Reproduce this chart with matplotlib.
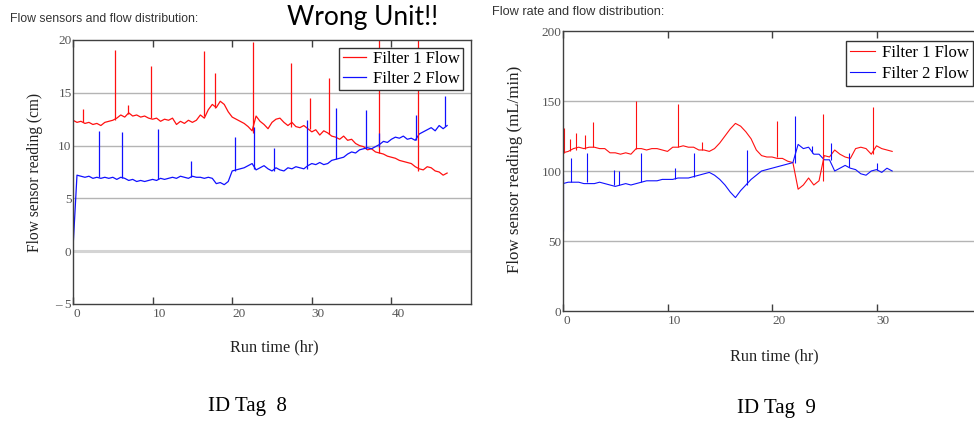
import numpy as np
import matplotlib
matplotlib.use("Agg")
import matplotlib.pyplot as plt

# ---- ID Tag 8 (left): flow sensor reading (cm) vs run time (hr), 0.5 hr samples ----
run_time_8 = np.arange(0, 47.5, 0.5)
filter1_tag8 = [
    12.4, 12.2, 12.3, 12.1, 12.2, 12.0, 12.1, 11.9, 12.2, 12.3,
    12.4, 12.6, 12.9, 12.7, 13.1, 12.8, 12.9, 12.7, 12.8, 12.6,
    12.5, 12.6, 12.3, 12.5, 12.4, 12.6, 12.0, 12.3, 12.1, 12.4,
    12.2, 12.4, 12.9, 12.6, 13.4, 13.9, 13.6, 14.2, 13.9, 13.2,
    12.7, 12.5, 12.3, 12.1, 11.8, 11.4, 12.8, 12.3, 12.0, 11.6,
    12.2, 12.5, 12.6, 12.2, 11.9, 12.2, 11.8, 11.7, 11.9, 11.6,
    11.3, 11.5, 11.0, 11.4, 11.2, 10.9, 10.8, 10.6, 10.9, 10.5,
    10.6, 10.2, 10.0, 9.9, 9.6, 9.7, 9.4, 9.3, 9.2, 9.0,
    8.9, 8.8, 8.6, 8.5, 8.4, 8.3, 8.0, 7.8, 7.7, 8.0,
    7.9, 7.6, 7.5, 7.2, 7.4,
]
filter2_tag8 = [
    0.3, 7.2, 7.1, 7.0, 7.1, 6.9, 7.0, 6.9, 7.0, 6.9,
    7.0, 6.8, 7.0, 6.9, 6.7, 6.8, 6.6, 6.7, 6.6, 6.7,
    6.8, 6.7, 6.9, 6.8, 6.9, 7.0, 6.9, 7.1, 7.0, 6.9,
    7.1, 7.0, 7.0, 6.9, 7.0, 6.9, 6.4, 6.5, 6.3, 6.6,
    7.6, 7.7, 7.8, 7.9, 8.1, 8.3, 7.7, 7.9, 8.1, 7.8,
    7.6, 7.9, 7.7, 7.6, 7.9, 7.8, 8.0, 7.9, 7.8, 8.1,
    8.3, 8.2, 8.4, 8.2, 8.3, 8.6, 8.7, 8.8, 8.9, 9.2,
    9.4, 9.3, 9.6, 9.7, 9.8, 9.7, 9.9, 10.1, 10.4, 10.3,
    10.6, 10.8, 10.7, 10.9, 10.6, 10.7, 10.5, 11.1, 11.3, 11.5,
    11.7, 11.4, 11.9, 11.6, 11.9,
]
# single-sample spikes (time, low, high)
spike1_t8 = [1.3, 5.3, 6.9, 9.8, 16.4, 17.9, 22.6, 27.4, 29.8, 32.2, 38.5, 43.4]
spike1_lo8 = [12.2, 12.4, 13.0, 12.6, 12.8, 13.6, 11.2, 11.8, 11.6, 11.1, 9.3, 7.6]
spike1_hi8 = [13.5, 19.1, 13.8, 17.5, 19.0, 16.9, 19.8, 17.8, 14.5, 16.4, 20.0, 20.0]
spike2_t8 = [3.3, 6.2, 10.7, 14.8, 20.3, 22.8, 25.2, 29.4, 33.1, 36.8, 38.5, 43.1, 46.7]
spike2_lo8 = [7.0, 6.9, 6.8, 7.0, 7.6, 7.8, 7.6, 7.8, 8.7, 9.7, 9.9, 10.5, 11.9]
spike2_hi8 = [11.4, 11.3, 11.6, 8.5, 10.8, 11.8, 9.8, 12.4, 13.6, 13.4, 11.2, 12.9, 14.7]

# ---- ID Tag 9 (right): flow rate (mL/min) vs run time (hr), 0.5 hr samples ----
run_time_9 = np.arange(0, 32.0, 0.5)
filter1_tag9 = [
    113, 114, 116, 117, 116, 117, 117, 116, 116, 113,
    113, 112, 113, 112, 116, 116, 115, 116, 116, 115,
    114, 117, 117, 118, 117, 117, 115, 115, 114, 116,
    120, 125, 130, 134, 132, 128, 123, 115, 111, 110,
    110, 109, 109, 107, 106, 87, 90, 95, 90, 93,
    111, 110, 115, 112, 110, 109, 116, 117, 116, 112,
    118, 116, 115, 114,
]
filter2_tag9 = [
    91, 92, 92, 92, 91, 91, 91, 92, 91, 90,
    89, 90, 91, 90, 91, 92, 93, 93, 93, 94,
    94, 94, 95, 95, 95, 96, 97, 98, 99, 97,
    94, 90, 85, 81, 86, 90, 94, 97, 100, 101,
    102, 103, 104, 105, 106, 119, 116, 117, 112, 112,
    108, 108, 100, 102, 104, 102, 101, 98, 97, 100,
    101, 99, 102, 100,
]
spike1_t9 = [0.05, 0.7, 1.2, 2.1, 2.9, 7.0, 11.0, 13.3, 20.5, 24.9, 29.7]
spike1_lo9 = [113, 114, 115, 116, 117, 116, 117, 115, 110, 93, 112]
spike1_hi9 = [131, 123, 127, 126, 135, 150, 148, 121, 136, 141, 146]
spike2_t9 = [0.0, 0.8, 2.3, 4.9, 5.4, 7.5, 10.7, 12.5, 17.6, 22.2, 23.8, 25.6, 27.4, 30.0]
spike2_lo9 = [57, 92, 92, 90, 90, 92, 94, 96, 90, 106, 113, 108, 103, 101]
spike2_hi9 = [98, 109, 113, 101, 100, 113, 102, 113, 115, 139, 118, 120, 113, 106]

yticks_8 = [-5, 0, 5, 10, 15, 20]
ylabels_8 = ['\u2013 5', '0', '5', '10', '15', '20']
yticks_9 = [0, 50, 100, 150, 200]

W, H = 974, 424
RED = '#ff1010'
BLUE = '#1010ff'
SERIF = 'Liberation Serif'


def px_axes(left, top, right, bottom):
    return [left / W, 1 - bottom / H, (right - left) / W, (bottom - top) / H]


def style_axes(ax, xlim, ylim, yticks, ylabels, zero_thick=False):
    ax.set_xlim(*xlim)
    ax.set_ylim(*ylim)
    ax.set_xticks(range(0, int(xlim[1]), 10))
    ax.set_yticks(yticks)
    ax.set_yticklabels(ylabels)
    for y in yticks[1:-1]:
        lw, col = (2.2, '#d4d4d4') if (zero_thick and y == 0) else (1.0, '#b4b4b4')
        ax.axhline(y, color=col, lw=lw, zorder=0)
    ax.tick_params(axis='x', direction='in', top=True, length=5, width=1,
                   color='#404040', labelsize=9.5, labelcolor='#555555', pad=3)
    ax.tick_params(axis='y', length=0, labelsize=9.5, labelcolor='#555555', pad=1)
    for lab in ax.get_xticklabels() + ax.get_yticklabels():
        lab.set_fontfamily(SERIF)
    for lab in ax.get_xticklabels():
        lab.set_ha('left')
    for s in ax.spines.values():
        s.set_color('#404040')
        s.set_linewidth(1.0)


fig = plt.figure(figsize=(W / 100, H / 100), dpi=100)

# left panel
ax1 = fig.add_axes(px_axes(73, 40, 471, 304))
l1, = ax1.plot(run_time_8, filter1_tag8, color=RED, lw=0.9, label='Filter 1 Flow')
l2, = ax1.plot(run_time_8, filter2_tag8, color=BLUE, lw=0.9, label='Filter 2 Flow')
ax1.vlines(spike1_t8, spike1_lo8, spike1_hi8, color=RED, lw=0.9)
ax1.vlines(spike2_t8, spike2_lo8, spike2_hi8, color=BLUE, lw=0.9)
style_axes(ax1, (0, 50), (-5, 20), yticks_8, ylabels_8, zero_thick=True)
leg = ax1.legend(handles=[l1, l2], loc='upper right', bbox_to_anchor=(0.98, 0.97),
                 borderaxespad=0, fancybox=False, framealpha=1, edgecolor='#333333',
                 prop={'family': SERIF, 'size': 12}, handlelength=1.4,
                 handletextpad=0.4, labelspacing=0.2, borderpad=0.2)
leg.get_frame().set_linewidth(1.0)

# right panel (clipped by the image edge)
ax2 = fig.add_axes(px_axes(563, 31, 981, 311))
r1, = ax2.plot(run_time_9, filter1_tag9, color=RED, lw=0.8, label='Filter 1 Flow')
r2, = ax2.plot(run_time_9, filter2_tag9, color=BLUE, lw=0.8, label='Filter 2 Flow')
ax2.vlines(spike1_t9, spike1_lo9, spike1_hi9, color=RED, lw=0.8)
ax2.vlines(spike2_t9, spike2_lo9, spike2_hi9, color=BLUE, lw=0.8)
style_axes(ax2, (0, 40), (0, 200), yticks_9, [str(v) for v in yticks_9])
leg2 = ax2.legend(handles=[r1, r2], loc='upper right', bbox_to_anchor=(0.981, 0.964),
                  borderaxespad=0, fancybox=False, framealpha=1, edgecolor='#333333',
                  prop={'family': SERIF, 'size': 12}, handlelength=1.5,
                  handletextpad=0.4, labelspacing=0.3, borderpad=0.25)
leg2.get_frame().set_linewidth(1.0)


def ftext(x, y, s, **kw):
    fig.text(x / W, 1 - y / H, s, **kw)


ftext(10, 19, 'Flow sensors and flow distribution:', family='Liberation Sans',
      size=8.8, color='#333333', va='center')
ftext(287, 17, 'Wrong Unit!!', family='Lato', size=19, color='black', va='center')
ftext(492, 12, 'Flow rate and flow distribution:', family='Liberation Sans',
      size=9.2, color='#333333', va='center')

ftext(35, 172, 'Flow sensor reading (cm)', family=SERIF, size=11.2,
      rotation=90, ha='center', va='center', color='#222222')
ftext(274, 347, 'Run time (hr)', family=SERIF, size=11.7, ha='center',
      va='center', color='#222222')
ftext(515, 169, 'Flow sensor reading (mL/min)', family=SERIF, size=12.2,
      rotation=90, ha='center', va='center', color='#222222')
ftext(774, 356, 'Run time (hr)', family=SERIF, size=11.7, ha='center',
      va='center', color='#222222')

ftext(247, 407, 'ID Tag  8', family=SERIF, size=15, ha='center', va='center')
ftext(776, 408, 'ID Tag  9', family=SERIF, size=15, ha='center', va='center')

fig.savefig('out.png', dpi=100)
